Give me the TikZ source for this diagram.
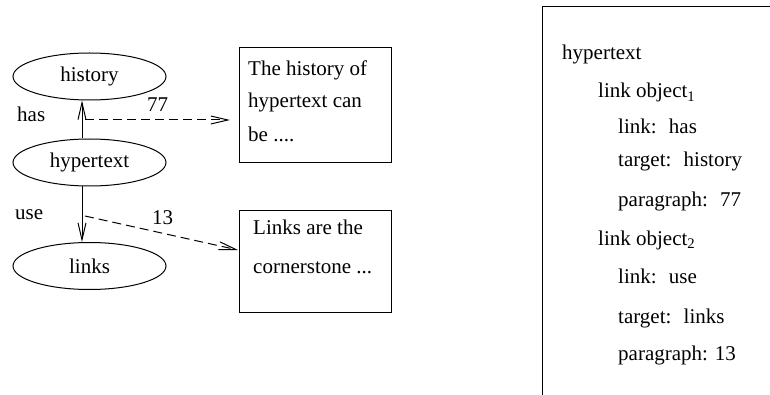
\documentclass[tikz,border=0pt]{standalone}
\usepackage{fontspec}
\setmainfont{Liberation Serif}
\usetikzlibrary{arrows.meta}
\usetikzlibrary{shapes.geometric}

\tikzset{
  concept/.style={draw, ellipse, minimum width=153pt, minimum height=47pt, inner sep=0pt, line width=1pt},
  para/.style={draw, rectangle, minimum width=152pt, inner sep=0pt, line width=1pt},
  lbl/.style={anchor=base west, inner sep=0pt},
  rel/.style={line width=1pt, -{Straight Barb[length=17pt,width=8pt]}},
  ref/.style={rel, dash pattern=on 9pt off 5pt}
}

\begin{document}
\begin{tikzpicture}[x=1pt,y=-1pt,font=\fontsize{21}{25}\selectfont]
%\draw[help lines] (0,0) grid (770,395);
\useasboundingbox (0,0) rectangle (770,395);

% the three concepts
\node[concept] (history) at (89.5,76.5) {history};
\node[concept] (hypertext) at (89.5,162.5) {hypertext};
\node[concept] (links) at (89.5,266) {links};

\draw[rel] ([xshift=-7.5pt]hypertext.north) -- ([xshift=-7.5pt]history.south);
\draw[rel] ([xshift=-7.5pt]hypertext.south) -- ([xshift=-7.5pt]links.north);

\node[lbl] (has) at (17,122) {has};
\node[lbl] (use) at (15,220) {use};
\node[lbl] (p77) at (147,112) {77};
\node[lbl] (p13) at (152,225) {13};

% paragraphs
\node[para, minimum height=115pt] (box1) at (315,105.5) {};
\node[para, minimum height=101pt] (box2) at (315,261.5) {};

\node[lbl] (b1a) at (248,76) {The history of};
\node[lbl] (b1b) at (248,108) {hypertext can};
\node[lbl] (b1c) at (248,142) {be ....};
\node[lbl] (b2a) at (253,235) {Links are the};
\node[lbl] (b2b) at (253,273) {cornerstone ...};

\coordinate (from77) at (85,120);
\coordinate (to77) at (230,120);
\coordinate (from13) at (85,216);
\coordinate (to13) at (238,250);
\draw[ref] (from77) -- (to77);
\draw[ref] (from13) -- (to13);

% the link objects
\draw[line width=1pt] (775,7) -- (542,7) -- (542,400);

\node[lbl] (obj) at (562,60) {hypertext};
\node[lbl] (lo1) at (598,98) {link object\textsubscript{1}};
\node[lbl] (lo1a) at (618,134) {link:~ has};
\node[lbl] (lo1b) at (618,167) {target:~ history};
\node[lbl] (lo1c) at (618,207) {paragraph:~ 77};
\node[lbl] (lo2) at (598,245) {link object\textsubscript{2}};
\node[lbl] (lo2a) at (618,283) {link:~ use};
\node[lbl] (lo2b) at (618,323) {target:~ links};
\node[lbl] (lo2c) at (618,360) {paragraph: 13};

\end{tikzpicture}
\end{document}
